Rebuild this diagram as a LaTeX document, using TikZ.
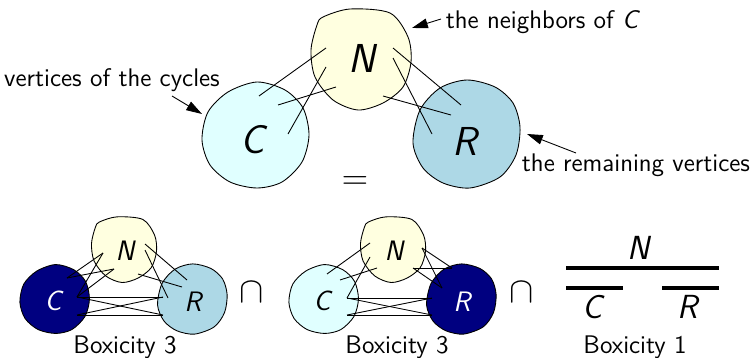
\documentclass[tikz,border=0pt]{standalone}
\usepackage{fontspec}
\usepackage{tikz}
\usetikzlibrary{arrows.meta,calc}
\renewcommand{\familydefault}{\sfdefault}
\definecolor{nfill}{HTML}{FFFFE0}
\definecolor{cfill}{HTML}{E0FFFF}
\definecolor{rfill}{HTML}{ADD8E6}
\definecolor{dark}{HTML}{000080}
\tikzset{
 blobN/.pic={\draw[pic actions] plot[smooth cycle] coordinates {(-38,-43) (-11,-51) (29,-47) (47,-23) (50,2) (42,27) (22,43) (-3,50) (-28,40) (-46,17) (-50,-10) (-44,-35)};},
 blobC/.pic={\draw[pic actions] plot[smooth cycle] coordinates {(1,-53) (29,-45) (47,-27) (53,0) (46,27) (26,47) (1,53) (-26,47) (-46,30) (-54,5) (-48,-23) (-28,-43)};},
 blobR/.pic={\draw[pic actions] plot[smooth cycle] coordinates {(1,-54) (29,-47) (47,-31) (54,-7) (50,21) (34,43) (4,54) (-23,49) (-43,34) (-53,9) (-46,-24) (-26,-46)};}
}

\begin{document}
\begin{tikzpicture}[x=0.02cm,y=-0.02cm,line width=0.5pt,
 letter/.style={font=\fontsize{23}{25}\selectfont\itshape},
 midletter/.style={font=\fontsize{19}{21}\selectfont\itshape},
 smallletter/.style={font=\fontsize{16}{18}\selectfont\itshape},
 lbl/.style={font=\fontsize{14.5}{16}\selectfont},
 pointer/.style={-{Triangle[length=9pt,width=5.5pt]}},
 bar/.style={line width=1.9pt}]
\useasboundingbox (0,0) rectangle (750,358);
% top: the split into C, N and R
\pic[fill=nfill] at (361,60) {blobN};
\pic[fill=cfill] at (256,135) {blobC};
\pic[fill=rfill] at (466,134) {blobR};
\node[letter] (tN) at (362,58) {N};
\node[letter] (tC) at (253,140) {C};
\node[letter] (tR) at (465,141) {R};
\coordinate (tn1) at (326,48); \coordinate (tn2) at (326,67); \coordinate (tn3) at (336,87);
\coordinate (tn4) at (393,48); \coordinate (tn5) at (393,58); \coordinate (tn6) at (383,96);
\coordinate (tc1) at (259,96); \coordinate (tc2) at (288,134); \coordinate (tc3) at (278,105);
\coordinate (tr1) at (461,105); \coordinate (tr2) at (432,134); \coordinate (tr3) at (451,115);
\foreach \a/\b in {tn1/tc1,tn2/tc2,tn3/tc3,tn4/tr1,tn5/tr2,tn6/tr3}
 \draw (\a) -- (\b);
\node[lbl] (lCyc) at (112,80) {vertices of the cycles};
\node[lbl] (lNei) at (543,22) {the neighbors of \textit{C}};
\node[lbl] (lRem) at (636,165) {the remaining vertices};
\coordinate (aC) at (172,96); \coordinate (bC) at (202,114);
\coordinate (aN) at (441,19); \coordinate (bN) at (412,28);
\coordinate (aR) at (576,153); \coordinate (bR) at (527,134);
\draw[pointer] (aC) -- (bC);
\draw[pointer] (aN) -- (bN);
\draw[pointer] (aR) -- (bR);
\node[font=\fontsize{22}{24}\selectfont] (eq) at (355,183) {$=$};
% bottom left: C dark
\pic[fill=nfill,scale=0.65] at (124,250) {blobN};
\pic[fill=dark,scale=0.65] at (55,299) {blobC};
\pic[fill=rfill,scale=0.65] at (192,299) {blobR};
\node[smallletter] (lN) at (125,251) {N};
\node[smallletter,text=white] (lC) at (53,301) {C};
\node[smallletter] (lR) at (193,302) {R};
\coordinate (ln1) at (103,253); \coordinate (ln2) at (114,269); \coordinate (ln3) at (145,244);
\coordinate (ln4) at (145,250); \coordinate (ln5) at (138,274);
\coordinate (lc1) at (67,278); \coordinate (lc2) at (77,297); \coordinate (lc3) at (77,315);
\coordinate (lr1) at (187,280); \coordinate (lr2) at (168,298); \coordinate (lr3) at (182,287);
\coordinate (lr4) at (163,297); \coordinate (lr5) at (163,315);
\foreach \a/\b in {ln1/lc1,ln2/lc1,ln1/lc2,ln2/lc2,ln3/lr1,ln4/lr2,ln5/lr3,lc2/lr4,lc2/lr5,lc3/lr4,lc3/lr5}
 \draw (\a) -- (\b);
\node[lbl] (bx1) at (125,347) {Boxicity 3};
\node[font=\fontsize{20}{22}\selectfont] (cap1) at (252,292) {$\cap$};
% bottom middle: R dark
\pic[fill=nfill,scale=0.65] at (393,250) {blobN};
\pic[fill=cfill,scale=0.65] at (324,299) {blobC};
\pic[fill=dark,scale=0.65] at (461,299) {blobR};
\node[smallletter] (mN) at (394,251) {N};
\node[smallletter] (mC) at (322,301) {C};
\node[smallletter,text=white] (mR) at (462,302) {R};
\coordinate (mn1) at (370,243); \coordinate (mn2) at (370,257); \coordinate (mn3) at (377,268);
\coordinate (mn4) at (422,248); \coordinate (mn5) at (413,268);
\coordinate (mc1) at (327,274); \coordinate (mc2) at (347,298); \coordinate (mc3) at (340,280);
\coordinate (mc4) at (347,315);
\coordinate (mr1) at (452,268); \coordinate (mr2) at (442,288);
\coordinate (mr3) at (432,298); \coordinate (mr4) at (432,315);
\foreach \a/\b in {mn1/mc1,mn2/mc2,mn3/mc3,mn4/mr1,mn4/mr2,mn5/mr1,mn5/mr2,mc2/mr3,mc2/mr4,mc4/mr3,mc4/mr4}
 \draw (\a) -- (\b);
\node[lbl] (bx2) at (397,347) {Boxicity 3};
\node[font=\fontsize{20}{22}\selectfont] (cap2) at (522,292) {$\cap$};
% bottom right: intervals
\node[midletter] (rN) at (639,248) {N};
\node[midletter] (rC) at (593,307) {C};
\node[midletter] (rR) at (688,307) {R};
\coordinate (iN0) at (566,268); \coordinate (iN1) at (719,268);
\coordinate (iC0) at (566,288); \coordinate (iC1) at (623,288);
\coordinate (iR0) at (662,288); \coordinate (iR1) at (719,288);
\draw[bar] (iN0) -- (iN1);
\draw[bar] (iC0) -- (iC1);
\draw[bar] (iR0) -- (iR1);
\node[lbl] (bx3) at (635,347) {Boxicity 1};
\end{tikzpicture}
\end{document}
